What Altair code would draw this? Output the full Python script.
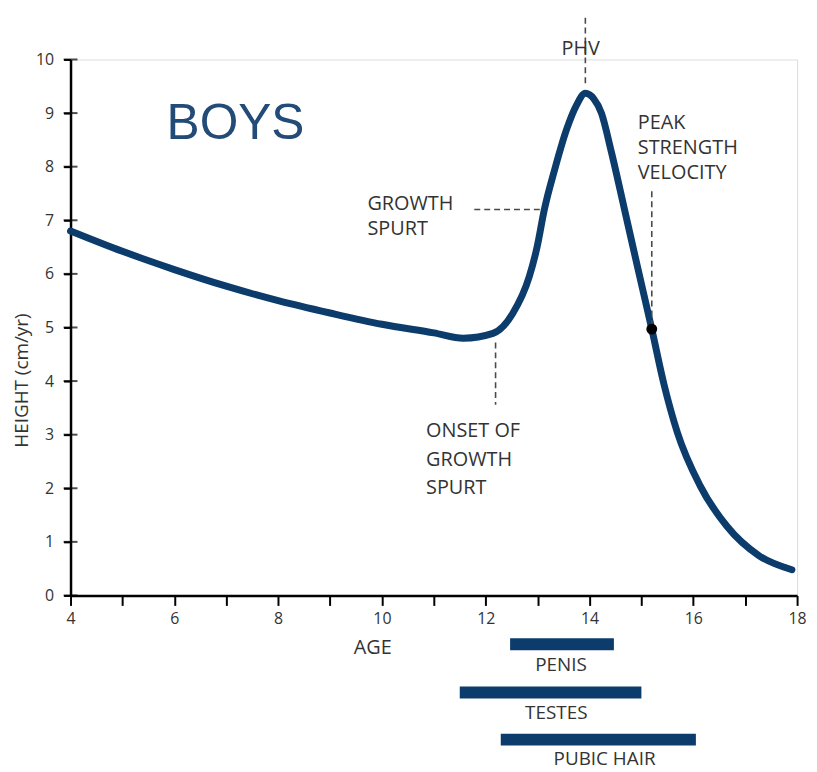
import altair as alt
import pandas as pd

# ---- data ----
ages = [4, 5, 6, 7, 8, 9, 10, 11, 11.57, 12.14, 12.52, 12.84, 12.99, 13.13, 13.33,
        13.56, 13.75, 13.92, 14.08, 14.23, 14.42, 14.67, 14.93, 15.2, 15.43, 15.69,
        16.13, 16.64, 17.27, 17.9]
velocity = [6.8, 6.42, 6.08, 5.77, 5.5, 5.27, 5.06, 4.9, 4.8, 4.89, 5.26, 5.95, 6.5, 7.2, 7.95,
            8.7, 9.15, 9.37, 9.27, 9.0, 8.28, 7.22, 6.11, 4.97, 3.96, 3.05,
            2.05, 1.3, 0.74, 0.48]

psv_age = [15.2]
psv_vel = [4.97]

# dashed guide lines: x, x2, y, y2
guide_x = [13.92, 11.78, 12.19, 15.2]
guide_x2 = [13.92, 13.05, 12.19, 15.2]
guide_y = [10.78, 7.2, 4.72, 7.54]
guide_y2 = [9.48, 7.2, 3.56, 5.06]

# annotation texts (first line anchored at y)
ann_text = ["PHV", "PEAK\nSTRENGTH\nVELOCITY", "GROWTH\nSPURT", "ONSET OF\nGROWTH\nSPURT"]
ann_x = [13.83, 14.93, 9.72, 10.85]
ann_y = [10.19, 8.81, 7.30, 3.06]
ann_align = ["center", "left", "left", "left"]
ann_lh = [25, 25, 25, 28.5]

# maturation bars
bar_names = ["PENIS", "TESTES", "PUBIC HAIR"]
bar_start = [12.47, 11.5, 12.29]
bar_end = [14.47, 15.0, 16.05]
bar_level = [-0.91, -1.81, -2.69]
label_x = [13.45, 13.36, 14.29]
label_level = [-1.30, -2.19, -3.06]

y_ticks = list(range(0, 11))
x_ticks = list(range(4, 19))

NAVY = "#0c3c6c"
TEXT = "#333333"
FONT = "Open Sans"

curve_df = pd.DataFrame({"age": ages, "vel": velocity})
dot_df = pd.DataFrame({"age": psv_age, "vel": psv_vel})
guide_df = pd.DataFrame({"x": guide_x, "x2": guide_x2, "y": guide_y, "y2": guide_y2})
ann_df = pd.DataFrame({"t": ann_text, "x": ann_x, "y": ann_y, "al": ann_align, "lh": ann_lh})
bars_df = pd.DataFrame({"name": bar_names, "s": bar_start, "e": bar_end, "lvl": bar_level,
                        "lx": label_x, "ly": label_level})
ytick_df = pd.DataFrame({"x": [4] * len(y_ticks), "y": y_ticks})
boys_df = pd.DataFrame({"t": ["BOYS"], "x": [5.85], "y": [8.8]})

xscale = alt.Scale(domain=[4, 18], nice=False, zero=False)
yscale = alt.Scale(domain=[0, 10], nice=False)

xaxis = alt.Axis(values=x_ticks, labelExpr="datum.value % 2 == 0 ? datum.label : ''",
                 title="AGE", titleX=304, titleY=52, titleAlign="center", titleBaseline="middle",
                 titleFontWeight="normal", titleFontSize=20, titleColor=TEXT, titleFont=FONT,
                 tickSize=10, tickWidth=2, tickColor="black", domainColor="black", domainWidth=2.5,
                 labelFontSize=16, labelColor=TEXT, labelFont=FONT, labelPadding=5, grid=False,
                 labelFlush=False)
yaxis = alt.Axis(values=y_ticks, title="HEIGHT (cm/yr)", titleX=-49, titleY=323,
                 titleAlign="center", titleBaseline="middle", titleFontWeight="normal",
                 titleFontSize=19, titleColor=TEXT, titleFont=FONT,
                 tickSize=7, tickWidth=2, tickColor="black", domainColor="black", domainWidth=2.5,
                 labelFontSize=16, labelColor=TEXT, labelFont=FONT, labelPadding=10, grid=False)

curve = alt.Chart(curve_df).mark_line(color=NAVY, strokeWidth=7, interpolate="monotone",
                                      strokeCap="round", clip=False).encode(
    x=alt.X("age:Q", scale=xscale, axis=xaxis),
    y=alt.Y("vel:Q", scale=yscale, axis=yaxis),
)

yticks = alt.Chart(ytick_df).mark_tick(orient="horizontal", size=14, thickness=2, color="black").encode(
    x=alt.X("x:Q", scale=xscale), y=alt.Y("y:Q", scale=yscale))

guides = alt.Chart(guide_df).mark_rule(color="#4a4a4a", strokeWidth=1.6, strokeDash=[6, 4],
                                       clip=False).encode(
    x=alt.X("x:Q", scale=xscale), x2="x2:Q", y=alt.Y("y:Q", scale=yscale), y2="y2:Q")

dot = alt.Chart(dot_df).mark_circle(color="black", size=120, opacity=1).encode(
    x=alt.X("age:Q", scale=xscale), y=alt.Y("vel:Q", scale=yscale))

def ann_layer(i):
    sub = ann_df.iloc[[i]]
    return alt.Chart(sub).mark_text(align=ann_align[i], baseline="middle", fontSize=20, font=FONT,
                                    color=TEXT, lineBreak="\n", lineHeight=ann_lh[i],
                                    clip=False).encode(
        x=alt.X("x:Q", scale=xscale), y=alt.Y("y:Q", scale=yscale), text="t:N")

boys = alt.Chart(boys_df).mark_text(align="left", baseline="middle", fontSize=50,
                                    font="Liberation Sans", color="#234b78").encode(
    x=alt.X("x:Q", scale=xscale), y=alt.Y("y:Q", scale=yscale), text="t:N")

bars = alt.Chart(bars_df).mark_rule(color=NAVY, strokeWidth=12, strokeCap="butt", clip=False).encode(
    x=alt.X("s:Q", scale=xscale), x2="e:Q", y=alt.Y("lvl:Q", scale=yscale))

bar_labels = alt.Chart(bars_df).mark_text(align="center", baseline="middle", fontSize=19,
                                          font=FONT, color=TEXT, clip=False).encode(
    x=alt.X("lx:Q", scale=xscale), y=alt.Y("ly:Q", scale=yscale), text="name:N")

chart = alt.layer(curve, yticks, guides, dot, ann_layer(0), ann_layer(1), ann_layer(2),
                  ann_layer(3), boys, bars, bar_labels).properties(
    width=732, height=540,
    autosize=alt.AutoSizeParams(type="none"),
    padding={"left": 63, "top": 49, "right": 12, "bottom": 176},
).configure_view(stroke=None).configure(background="white")

chart.save("out.html", embed_options={"renderer": "svg", "actions": False})
